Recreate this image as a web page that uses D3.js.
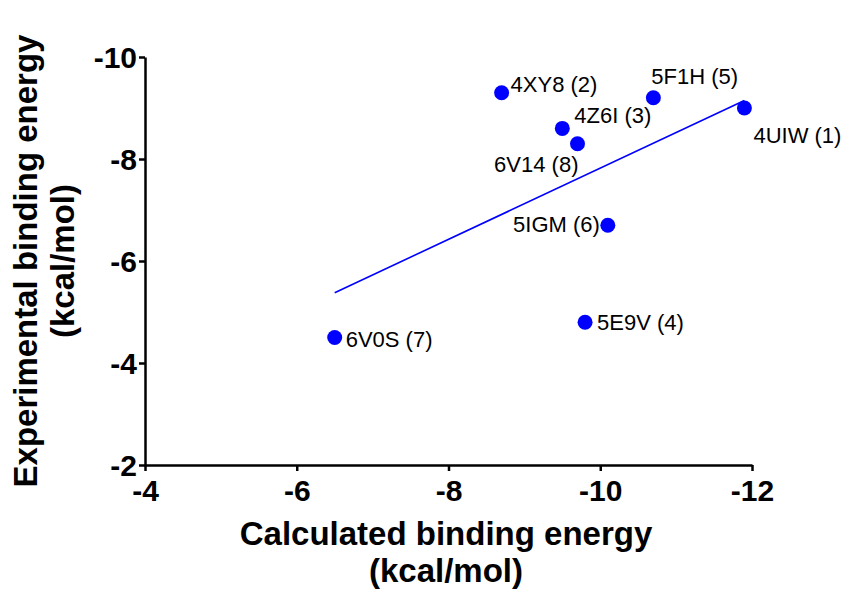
<!DOCTYPE html>
<head>
<meta charset="utf-8">
<title>Calculated vs experimental binding energy</title>
<style>
  body { margin: 0; background: #fff; }
  text { font-family: "Liberation Sans", Arial, sans-serif; }
</style>
</head>
<body>
<script src="https://d3js.org/d3.v7.min.js"></script>
<script>
// data (kcal/mol)
let names = ["4UIW (1)", "4XY8 (2)", "4Z6I (3)", "5E9V (4)", "5F1H (5)", "5IGM (6)", "6V0S (7)", "6V14 (8)"];
let calculated = [-11.9, -8.7, -9.5, -9.8, -10.7, -10.1, -6.5, -9.7];
let experimental = [-9.0, -9.3, -8.6, -4.8, -9.2, -6.7, -4.5, -8.3];
let xTicks = [-4, -6, -8, -10, -12];
let yTicks = [-2, -4, -6, -8, -10];

// where each label sits relative to its dot
let labelPos = {
  "4UIW (1)": [9, 35, "start"],
  "4XY8 (2)": [9, -1, "start"],
  "4Z6I (3)": [12, -5, "start"],
  "5E9V (4)": [12, 8, "start"],
  "5F1H (5)": [-2, -14, "start"],
  "5IGM (6)": [-8, 7, "end"],
  "6V0S (7)": [11, 9, "start"],
  "6V14 (8)": [1, 28, "end"]
};

let width = 843, height = 591;
let svg = d3.select("body").append("svg")
  .attr("width", width)
  .attr("height", height);

let x = d3.scaleLinear().domain([-4, -12]).range([145, 752]);
let y = d3.scaleLinear().domain([-2, -10]).range([465, 57]);

let points = names.map((n, i) => ({ name: n, cx: calculated[i], ey: experimental[i] }));

// plain hyphen minus like the original
let fmt = d => String(d);

// x axis
let xAxis = svg.append("g")
  .attr("transform", "translate(0," + y(-2) + ")")
  .call(d3.axisBottom(x).tickValues(xTicks).tickSize(6).tickSizeOuter(0).tickFormat(fmt));
// y axis
let yAxis = svg.append("g")
  .attr("transform", "translate(" + x(-4) + ",0)")
  .call(d3.axisLeft(y).tickValues(yTicks).tickSize(6).tickSizeOuter(0).tickFormat(fmt));

[xAxis, yAxis].forEach(g => {
  g.select(".domain").attr("stroke", "#000").attr("stroke-width", 2.5);
  g.selectAll(".tick line").attr("stroke", "#000").attr("stroke-width", 2.5);
  g.selectAll(".tick text")
    .attr("fill", "#000")
    .style("font-family", "'Liberation Sans', Arial, sans-serif")
    .style("font-size", "30px")
    .style("font-weight", "bold");
});
xAxis.selectAll(".tick text").attr("dy", "0.95em").attr("y", 7);
yAxis.selectAll(".tick text").attr("x", -8).attr("dy", "0.36em");

// linear fit
let mx = d3.mean(calculated), my = d3.mean(experimental);
let sxy = d3.sum(calculated, (v, i) => (v - mx) * (experimental[i] - my));
let sxx = d3.sum(calculated, v => (v - mx) * (v - mx));
let slope = sxy / sxx, icpt = my - slope * mx;
let xr = d3.extent(calculated);
let fit = xr.map(v => [v, icpt + slope * v]);

svg.append("path")
  .datum(fit)
  .attr("fill", "none")
  .attr("stroke", "#0000ff")
  .attr("stroke-width", 1.6)
  .attr("d", d3.line().x(d => x(d[0])).y(d => y(d[1])));

svg.selectAll(".dot")
  .data(points)
  .join("circle")
  .attr("class", "dot")
  .attr("cx", d => x(d.cx))
  .attr("cy", d => y(d.ey))
  .attr("r", 7.5)
  .attr("fill", "#0000ff");

svg.selectAll(".lbl")
  .data(points)
  .join("text")
  .attr("class", "lbl")
  .attr("x", d => x(d.cx) + labelPos[d.name][0])
  .attr("y", d => y(d.ey) + labelPos[d.name][1])
  .attr("text-anchor", d => labelPos[d.name][2])
  .style("font-size", "22px")
  .attr("fill", "#000")
  .text(d => d.name);

// axis titles
let xt = svg.append("text")
  .attr("text-anchor", "middle")
  .style("font-size", "33px")
  .style("font-weight", "bold");
xt.append("tspan").attr("x", 446).attr("y", 545).text("Calculated binding energy");
xt.append("tspan").attr("x", 446).attr("y", 582).text("(kcal/mol)");

let yt = svg.append("text")
  .attr("text-anchor", "middle")
  .attr("transform", "rotate(-90)")
  .style("font-size", "33px")
  .style("font-weight", "bold");
yt.append("tspan").attr("x", -261).attr("y", 37).text("Experimental binding energy");
yt.append("tspan").attr("x", -261).attr("y", 74).text("(kcal/mol)");
</script>
</body>
